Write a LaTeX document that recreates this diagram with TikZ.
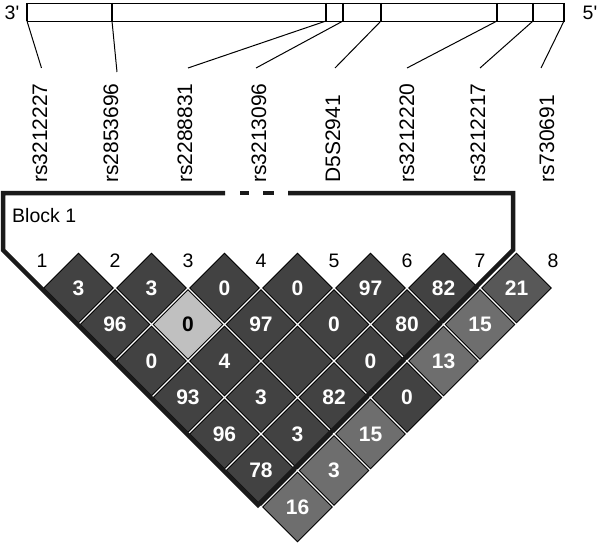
\documentclass[tikz,border=0pt]{standalone}
\usepackage{fontspec}
\setmainfont{Liberation Sans}
\usetikzlibrary{shapes.geometric}
\definecolor{cdark}{HTML}{424242}
\definecolor{cmid}{HTML}{585858}
\definecolor{cmed}{HTML}{6E6E6E}
\definecolor{clight}{HTML}{C0C0C0}
\definecolor{cblock}{HTML}{1A1A1A}
\begin{document}
\begin{tikzpicture}[x=1pt, y=-1pt,
  cell/.style={diamond, aspect=1, inner sep=0pt, minimum width=70pt, minimum height=70pt,
    draw=black, line width=0.9pt, text=white, font=\fontsize{21}{21}\selectfont\bfseries},
  dk/.style={cell, fill=cdark},
  md/.style={cell, fill=cmid},
  mg/.style={cell, fill=cmed},
  lt/.style={cell, fill=clight, text=black},
  snp/.style={rotate=90, anchor=west, inner sep=0pt, font=\fontsize{21}{21}\selectfont},
  num/.style={inner sep=0pt, font=\fontsize{19.5}{19.5}\selectfont},
  tick/.style={line width=1pt},
  blockline/.style={draw=cblock, line width=4.5pt}]
\useasboundingbox (0,0) rectangle (600,543);
\node[num] (end3) at (12,13) {3\textquotesingle};
\node[num] (end5) at (590,13) {5\textquotesingle};
\draw[line width=0.9pt] (27,3) rectangle (564,21);
\coordinate (t1) at (27,21);
\coordinate (t2) at (112,21);
\coordinate (t3) at (326,21);
\coordinate (t4) at (343,21);
\coordinate (t5) at (381,21);
\coordinate (t6) at (497,21);
\coordinate (t7) at (533,21);
\coordinate (t8) at (564,21);
\draw[line width=2pt] (27,3) -- (t1);
\draw[line width=2pt] (112,3) -- (t2);
\draw[line width=2pt] (326,3) -- (t3);
\draw[line width=2pt] (343,3) -- (t4);
\draw[line width=2pt] (381,3) -- (t5);
\draw[line width=2pt] (497,3) -- (t6);
\draw[line width=2pt] (533,3) -- (t7);
\draw[line width=2pt] (564,3) -- (t8);
\coordinate (e1) at (41.5,68);
\coordinate (e2) at (117,72);
\coordinate (e3) at (188,68);
\coordinate (e4) at (256,68);
\coordinate (e5) at (335,68);
\coordinate (e6) at (407,68);
\coordinate (e7) at (480,68);
\coordinate (e8) at (541,68);
\draw[tick](t1) -- (e1);
\draw[tick](t2) -- (e2);
\draw[tick](t3) -- (e3);
\draw[tick](t4) -- (e4);
\draw[tick](t5) -- (e5);
\draw[tick](t6) -- (e6);
\draw[tick](t7) -- (e7);
\draw[tick](t8) -- (e8);
\node[snp] (snp1) at (40,183) {rs3212227};
\node[snp] (snp2) at (111,183) {rs2853696};
\node[snp] (snp3) at (185,183) {rs2288831};
\node[snp] (snp4) at (259,183) {rs3213096};
\node[snp] (snp5) at (333,183) {D5S2941};
\node[snp] (snp6) at (407,183) {rs3212220};
\node[snp] (snp7) at (478,183) {rs3212217};
\node[snp] (snp8) at (547,183) {rs730691};
\node[num, anchor=west] (block1) at (12,216) {Block 1};
\node[num] (m1) at (42,261) {1};
\node[num] (m2) at (115,261) {2};
\node[num] (m3) at (188,261) {3};
\node[num] (m4) at (261,261) {4};
\node[num] (m5) at (334,261) {5};
\node[num] (m6) at (407,261) {6};
\node[num] (m7) at (480,261) {7};
\node[num] (m8) at (553,261) {8};
\node[dk] (c12) at (78.5,288) {3};
\node[dk] (c23) at (151.5,288) {3};
\node[dk] (c34) at (224.5,288) {0};
\node[dk] (c45) at (297.5,288) {0};
\node[dk] (c56) at (370.5,288) {97};
\node[dk] (c67) at (443.5,288) {82};
\node[md] (c78) at (516.5,288) {21};
\node[dk] (c13) at (115,324.5) {96};
\node[lt] (c24) at (188,324.5) {0};
\node[dk] (c35) at (261,324.5) {97};
\node[dk] (c46) at (334,324.5) {0};
\node[dk] (c57) at (407,324.5) {80};
\node[mg] (c68) at (480,324.5) {15};
\node[dk] (c14) at (151.5,361) {0};
\node[dk] (c25) at (224.5,361) {4};
\node[dk] (c36) at (297.5,361) {};
\node[dk] (c47) at (370.5,361) {0};
\node[mg] (c58) at (443.5,361) {13};
\node[dk] (c15) at (188,397.5) {93};
\node[dk] (c26) at (261,397.5) {3};
\node[dk] (c37) at (334,397.5) {82};
\node[dk] (c48) at (407,397.5) {0};
\node[dk] (c16) at (224.5,434) {96};
\node[dk] (c27) at (297.5,434) {3};
\node[mg] (c38) at (370.5,434) {15};
\node[dk] (c17) at (261,470.5) {78};
\node[mg] (c28) at (334,470.5) {3};
\node[mg] (c18) at (297.5,507) {16};
\coordinate (bl) at (3,250);
\coordinate (br) at (513,250);
\coordinate (bb) at (258,505);
\draw[blockline, line join=miter] (225,193) -- (3,193) -- (bl) -- (bb) -- (br) -- (513,193) -- (288,193);
\draw[blockline] (240,193) -- (249,193);
\draw[blockline] (263,193) -- (274,193);
\end{tikzpicture}
\end{document}
